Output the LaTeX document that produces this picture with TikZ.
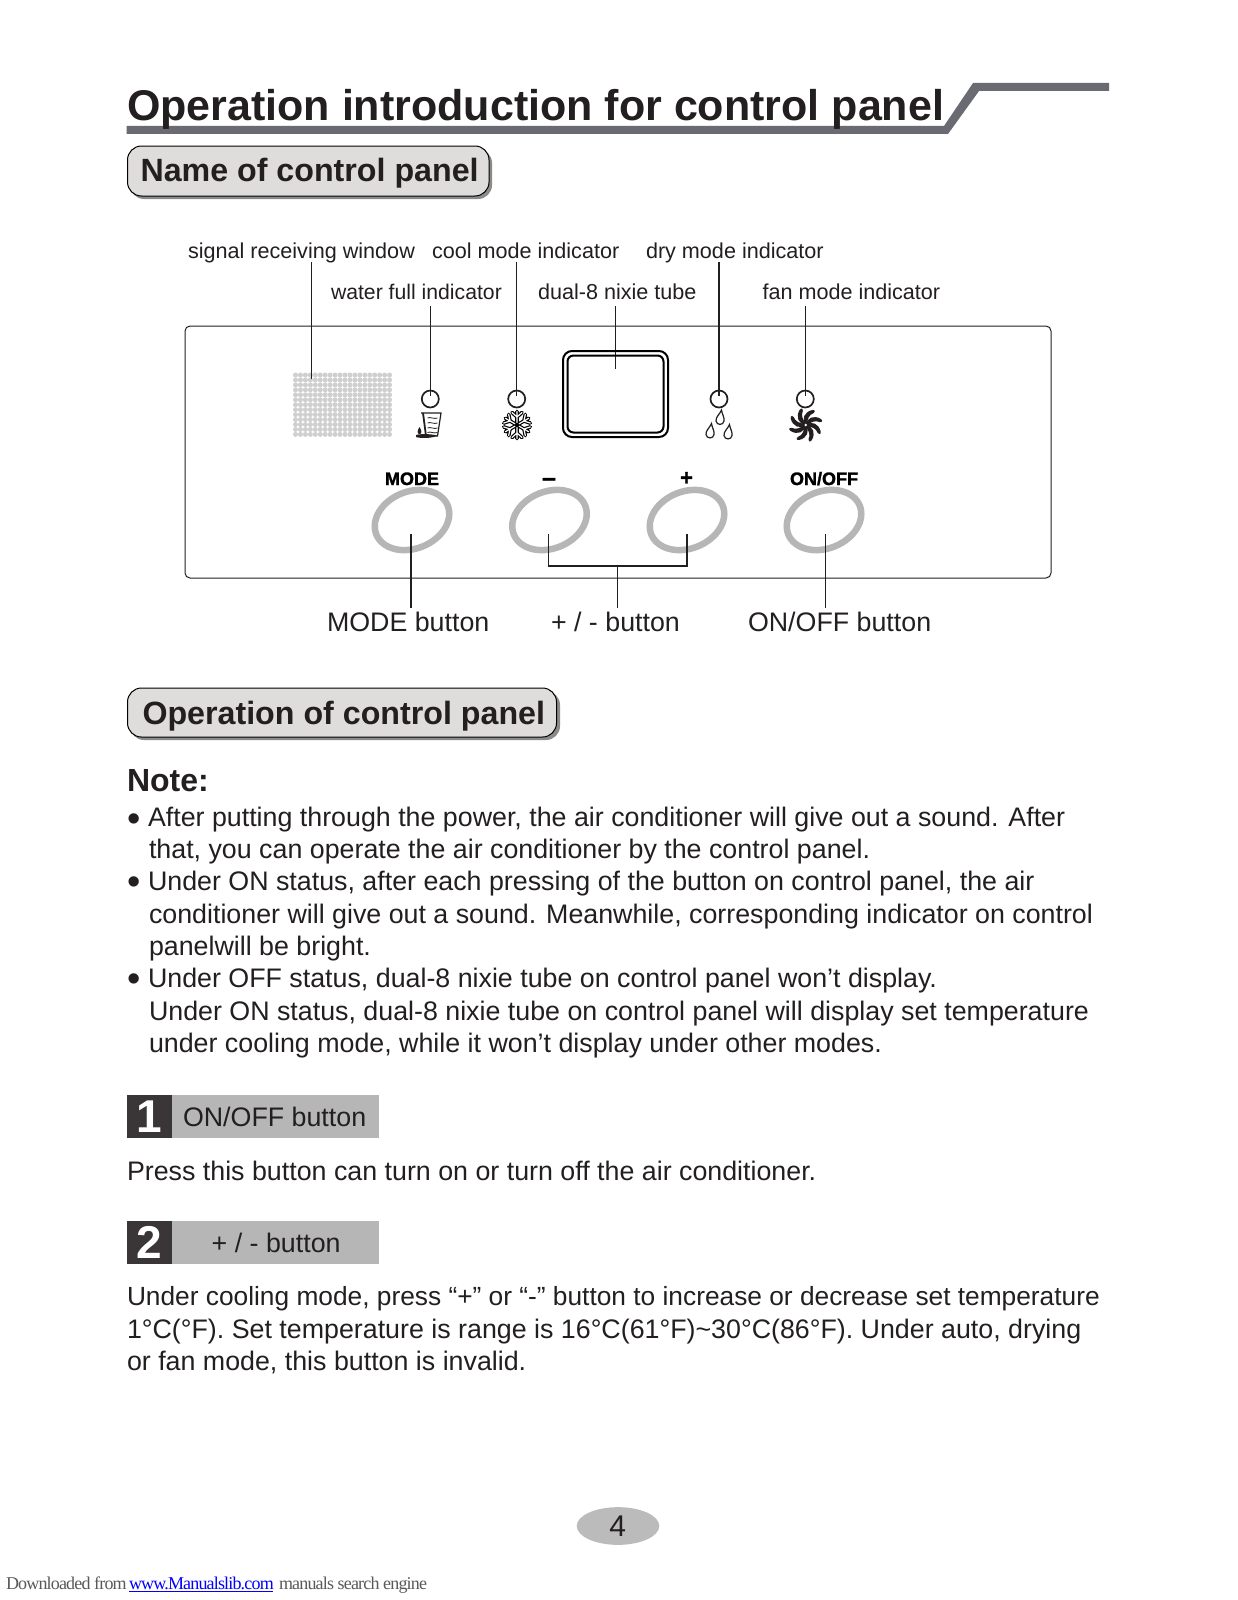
\documentclass[tikz,border=0pt]{standalone}
\usepackage{fontspec}
\setmainfont{Liberation Sans}
\newfontfamily\heavy[FakeBold=1.5]{Liberation Sans Bold}
\newfontfamily\foot[LetterSpace=-4.6]{Liberation Serif}
\definecolor{barc}{HTML}{6A6B72}
\definecolor{pillc}{HTML}{DEDDDB}
\definecolor{pills}{HTML}{8A8A8A}
\definecolor{dk}{HTML}{231F20}
\definecolor{btn}{HTML}{B6B6B6}
\definecolor{boxd}{HTML}{3A3536}
\definecolor{dotc}{HTML}{CFCFCF}
\definecolor{pg}{HTML}{BBBBBB}
\tikzset{
 txt/.style={anchor=base west,inner sep=0pt,outer sep=0pt,text=dk},
 body/.style={txt,font=\fontsize{26.8}{30}\selectfont},
 bull/.style={anchor=base,inner sep=0pt,outer sep=0pt,text=dk,font=\fontsize{38}{40}\selectfont},
 small/.style={txt,font=\fontsize{21.6}{24}\selectfont},
 big/.style={txt,font=\fontsize{26.8}{30}\selectfont},
 head/.style={txt,font=\fontsize{32.2}{36}\selectfont\bfseries},
 key/.style={anchor=base,inner sep=0pt,outer sep=0pt,text=black,font=\fontsize{18}{20}\selectfont\heavy},
 lead/.style={draw=dk,line width=1.4pt},
 lamp/.style={circle,draw=dk,line width=1.7pt,fill=none,minimum size=17pt,inner sep=0pt,outer sep=0pt},
 button/.style={draw=btn,line width=6.5pt,ellipse,rotate=22,minimum width=77pt,minimum height=57pt,inner sep=0pt,outer sep=0pt},
 pill/.style={draw=black,line width=1pt,fill=pillc,rounded corners=14pt},
 shade/.style={fill=pills,rounded corners=14pt},
 icon/.style={draw=dk,line width=1.2pt,fill=white},
 num/.style={anchor=base,inner sep=0pt,text=white,font=\fontsize{46}{50}\selectfont\bfseries},
}
\usetikzlibrary{shapes.geometric}
\begin{document}
\begin{tikzpicture}[x=1pt,y=-1pt]
\useasboundingbox (0,0) rectangle (1237,1600);
\fill[white] (0,0) rectangle (1237,1600);
% title
\fill[barc] (126.5,126)--(944,126)--(973,83)--(1109,83)--(1109,91)--(979,91)--(948,134)--(126.5,134)--cycle;
\node[txt,font=\fontsize{43}{46}\selectfont\bfseries] (title) at (127,121) {Operation introduction for control panel};
% section pills
\fill[shade] (130,149) rectangle (492,199);
\draw[pill] (127.5,146) rectangle (489,196);
\node[head] (s1) at (140.5,181) {Name of control panel};
\fill[shade] (130,691) rectangle (560,740);
\draw[pill] (127.5,688) rectangle (556.5,737);
\node[head] (s2) at (142.5,724) {Operation of control panel};
% panel
\draw[draw=dk,line width=1pt,rounded corners=5pt] (185,326) rectangle (1051,578);
% speaker grid
\foreach \i in {0,...,19}{\foreach \j in {0,...,12}{
 \fill[dotc] ({295.5+\i*4.95},{375+\j*4.95}) circle (2.5pt);}}
% labels
\node[small] (l1) at (188,258.5) {signal receiving window};
\node[small] (l2) at (432,258.5) {cool mode indicator};
\node[small] (l3) at (646,258.5) {dry mode indicator};
\node[txt,font=\fontsize{21.2}{24}\selectfont] (l4) at (331,299) {water full indicator};
\node[small] (l5) at (538,299) {dual-8 nixie tube};
\node[small] (l6) at (762.5,299) {fan mode indicator};
% lamps
\node[lamp] (w) at (430.3,399) {};
\node[lamp] (c) at (516.7,399) {};
\node[lamp] (d) at (719,399) {};
\node[lamp] (f) at (805.3,399) {};
\coordinate (sp) at (311.7,379);
\coordinate (nx) at (615.3,369);
\draw[lead] (311.7,262)--(sp);
\draw[lead] (430.3,306)--(430.3,396);
\draw[lead] (516.7,262)--(516.7,396);
\draw[lead] (615.3,306)--(nx);
\draw[lead] (719,262)--(719,396);
\draw[lead] (805.3,306)--(805.3,396);
% nixie
\draw[draw=black,line width=2pt,rounded corners=9pt] (563,351) rectangle (668,437);
\draw[draw=black,line width=2pt,rounded corners=6pt] (567.5,355.5) rectangle (663.5,432.5);
% water jug
\draw[draw=dk,line width=1.2pt] (421,413)--(441,413)--(437.5,436)--(426,436);
\draw[draw=dk,line width=1.8pt] (423,413)--(426,436);
\foreach \y in {418,423,428,432.5}{\draw[dk,line width=.8pt] (427.5,\y) .. controls (430.5,{\y-1.5}) and (434,{\y+1.5}) .. (437.5,\y);}
\fill[dk] (416,435) .. controls (421,433.5) and (432,434) .. (437,435.5) .. controls (433,438.5) and (420,438.5) .. (416,437) -- cycle;
\fill[dk] (419.5,427) .. controls (417,431) and (417,434) .. (419.5,434) .. controls (422,434) and (422,431) .. (419.5,427) -- cycle;
% snowflake
\begin{scope}[shift={(517,425)}]
\foreach \a in {0,60,...,300}{
 \draw[black,line width=3.6pt,line cap=round,line join=round,rotate=\a] (0,0)--(0,-13.5) (-5,-12.5)--(0,-8)--(5,-12.5);}
\foreach \a in {0,60,...,300}{
 \draw[white,line width=1.2pt,line cap=round,line join=round,rotate=\a] (0,-2.5)--(0,-13.5) (-5,-12.5)--(0,-8)--(5,-12.5);}
\end{scope}
% drops
\foreach \x/\y in {720/418,710/431.5,728/432.5}{
 \draw[icon,shift={(\x,\y)}] (1.5,-8) .. controls (0,-4) and (-4.5,-1) .. (-4,3) .. controls (-3.5,7.5) and (3.5,7.5) .. (4,3) .. controls (4.5,-1) and (2,-4) .. (1.5,-8) -- cycle;}
% fan
\begin{scope}[shift={(805.7,425)}]
\foreach \a in {0,45,...,315}{
 \fill[dk,rotate=\a] (0,0) .. controls (-4.5,-6) and (-1.5,-13) .. (6.5,-15) .. controls (9.5,-15.5) and (10,-12.5) .. (8,-12) .. controls (3.5,-10.5) and (1.5,-6) .. (1.2,-0.5) -- cycle;}
\fill[white] (0,0) circle (1.3pt);
\end{scope}
% keys
\node[key] (k1) at (412,485) {MODE};
\node[key,font=\fontsize{25}{26}\selectfont\heavy] (k2) at (549,486) {–};
\node[key,font=\fontsize{22}{24}\selectfont\heavy] (k3) at (686.5,485) {+};
\node[key] (k4) at (824,485) {ON/OFF};
% buttons
\node[button] (b1) at (412,520) {};
\node[button] (b2) at (549.5,520) {};
\node[button] (b3) at (687,520) {};
\node[button] (b4) at (824,520) {};
\coordinate (bm) at (617.6,566);
\draw[lead] (411,534)--(411,607.7);
\draw[lead] (548.6,534)--(548.6,566)--(687,566)--(687,534);
\draw[lead] (bm)--(617.6,607.7);
\draw[lead] (825.5,534)--(825.5,607.7);
\node[big] (n1) at (327,631) {MODE button};
\node[big] (n2) at (551,631) {+ / - button};
\node[big] (n3) at (748,631) {ON/OFF button};
% note
\node[txt,font=\fontsize{32}{34}\selectfont\bfseries] (note) at (127,791.7) {Note:};
\node[bull] (b1a) at (134,831.5) {•};
\node[body] (t1) at (148,826.7) {After putting through the power, the air conditioner will give out a sound. After};
\node[body] (t2) at (149,858) {that, you can operate the air conditioner by the control panel.};
\node[bull] (b1b) at (134,894.5) {•};
\node[body] (t3) at (148,890) {Under ON status, after each pressing of the button on control panel, the air};
\node[body] (t4) at (149,923.6) {conditioner will give out a sound. Meanwhile, corresponding indicator on control};
\node[body] (t5) at (149,955) {panelwill be bright.};
\node[bull] (b1c) at (134,991.5) {•};
\node[body] (t6) at (148,987) {Under OFF status, dual-8 nixie tube on control panel won’t display.};
\node[body] (t7) at (149,1020) {Under ON status, dual-8 nixie tube on control panel will display set temperature};
\node[body] (t8) at (149,1052) {under cooling mode, while it won’t display under other modes.};
% step 1
\fill[btn] (171.7,1095) rectangle (378.7,1137.7);
\fill[boxd] (126.7,1095) rectangle (171.7,1137.7);
\node[num] (n1x) at (149,1132.7) {1};
\node[body] (h1) at (183,1126.7) {ON/OFF button};
\node[body] (p1) at (127,1180) {Press this button can turn on or turn off the air conditioner.};
% step 2
\fill[btn] (171.7,1221) rectangle (378.7,1263.7);
\fill[boxd] (126.7,1221) rectangle (171.7,1263.7);
\node[num] (n2x) at (149,1258.7) {2};
\node[body] (h2) at (211.7,1252.3) {+ / - button};
\node[txt,font=\fontsize{26.3}{30}\selectfont] (p2) at (127,1305.4) {Under cooling mode, press “+” or “-” button to increase or decrease set temperature};
\node[body] (p3) at (127,1338) {1°C(°F). Set temperature is range is 16°C(61°F)\symbol{126}30°C(86°F). Under auto, drying};
\node[body] (p4) at (127,1370.6) {or fan mode, this button is invalid.};
% page number
\node[ellipse,fill=pg,minimum width=82.6pt,minimum height=37.7pt,inner sep=0pt] (pgn) at (618,1526) {};
\node[anchor=base,inner sep=0pt,text=dk,font=\fontsize{30}{32}\selectfont] (pgt) at (617.6,1536.7) {4};
% footer
\node[txt,text=black!65,font=\fontsize{18}{20}\selectfont\foot] (f1) at (6,1589) {Downloaded from};
\node[txt,text=blue,font=\fontsize{18}{20}\selectfont\foot] (f2) at (129,1589) {www.Manualslib.com};
\draw[blue,line width=.8pt] (129,1591)--(273,1591);
\node[txt,text=black!65,font=\fontsize{18}{20}\selectfont\foot] (f3) at (279,1589) {manuals search engine};
\end{tikzpicture}
\end{document}
